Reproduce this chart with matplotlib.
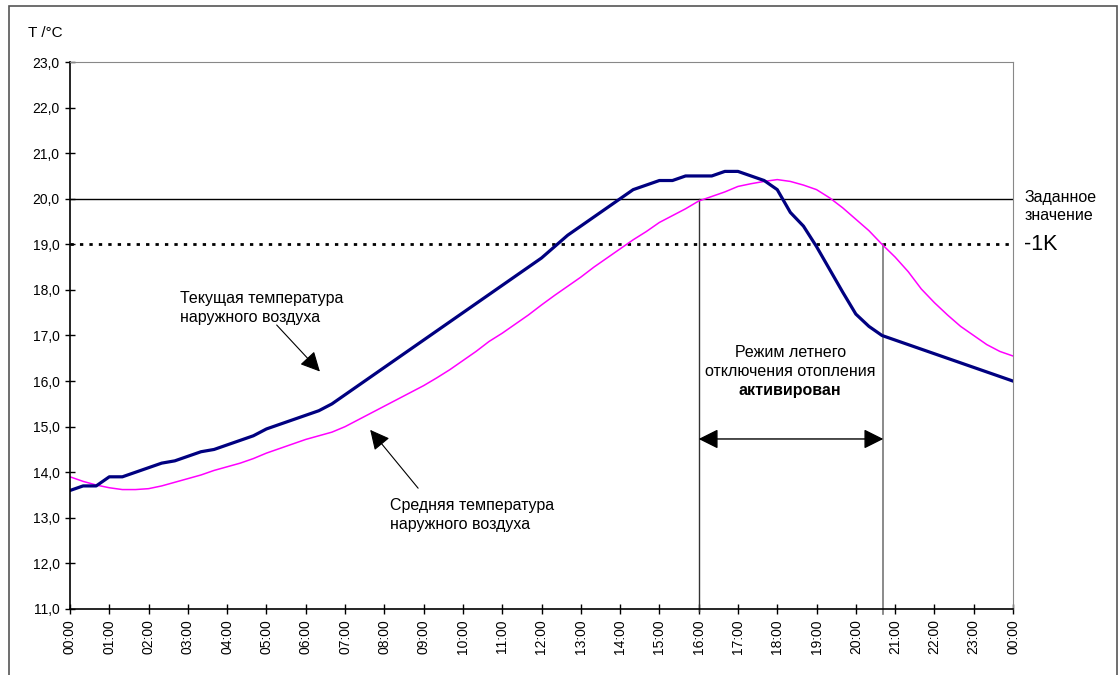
import matplotlib.pyplot as plt
import matplotlib.patches as patches

plt.rcParams['font.family'] = ['Liberation Sans', 'DejaVu Sans']

# time in hours, every 20 minutes
hours = [i / 3 for i in range(73)]

current_temp = [13.6, 13.7, 13.7, 13.9, 13.9, 14.0, 14.1, 14.2, 14.25, 14.35,
                14.45, 14.5, 14.6, 14.7, 14.8, 14.95, 15.05, 15.15, 15.25, 15.35,
                15.5, 15.7, 15.9, 16.1, 16.3, 16.5, 16.7, 16.9, 17.1, 17.3,
                17.5, 17.7, 17.9, 18.1, 18.3, 18.5, 18.7, 18.95, 19.2, 19.4,
                19.6, 19.8, 20.0, 20.2, 20.3, 20.4, 20.4, 20.5, 20.5, 20.5,
                20.6, 20.6, 20.5, 20.4, 20.2, 19.7, 19.4, 18.95, 18.45, 17.95,
                17.47, 17.2, 17.0, 16.9, 16.8, 16.7, 16.6, 16.5, 16.4, 16.3,
                16.2, 16.1, 16.0]

average_temp = [13.9, 13.8, 13.72, 13.66, 13.62, 13.62, 13.64, 13.7, 13.78, 13.86,
                13.94, 14.04, 14.12, 14.2, 14.3, 14.42, 14.52, 14.62, 14.72, 14.8,
                14.88, 15.0, 15.15, 15.3, 15.45, 15.6, 15.75, 15.9, 16.07, 16.25,
                16.45, 16.65, 16.87, 17.05, 17.25, 17.45, 17.67, 17.88, 18.08, 18.28,
                18.5, 18.7, 18.9, 19.1, 19.28, 19.48, 19.63, 19.78, 19.95, 20.05,
                20.15, 20.27, 20.33, 20.38, 20.42, 20.38, 20.3, 20.2, 20.02, 19.8,
                19.55, 19.3, 19.0, 18.72, 18.4, 18.02, 17.72, 17.45, 17.2, 17.0,
                16.8, 16.65, 16.55]

setpoint = 20.0
threshold = 19.0
t_on = 16.0
t_off = 20.7

hour_labels = ['%02d:00' % (h % 24) for h in range(25)]
y_ticks = [11 + i for i in range(13)]
y_labels = [('%.1f' % v).replace('.', ',') for v in y_ticks]

fig = plt.figure(figsize=(11.2, 6.75), dpi=100)
ax = fig.add_axes([70 / 1120, 1 - 609 / 675, 943 / 1120, 547 / 675])

# outer frame
fig.patches.append(patches.Rectangle((9 / 1120, -0.05), 1108 / 1120, 1 - 6 / 675 + 0.05,
                                     transform=fig.transFigure, fill=False,
                                     edgecolor='#555555', linewidth=1.2))

ax.axhline(setpoint, color='black', linewidth=1.0)
ax.axhline(threshold, color='black', linewidth=2.0, linestyle=(0, (1.2, 2.2)))
ax.plot([t_on, t_on], [10.95, setpoint], color='#333333', linewidth=1.0, clip_on=False)
ax.plot([t_off, t_off], [10.9, threshold], color='#777777', linewidth=1.2, clip_on=False)

ax.plot(hours, average_temp, color='#FF00FF', linewidth=1.1)
ax.plot(hours, current_temp, color='#000080', linewidth=2.3)

ax.set_xlim(0, 24)
ax.set_ylim(11, 23)
ax.set_xticks(range(25))
ax.set_xticklabels(hour_labels, rotation=90, fontsize=10)
ax.set_yticks(y_ticks)
ax.set_yticklabels(y_labels, fontsize=10)
ax.tick_params(direction='inout', length=7, width=1, pad=4)

ax.spines['top'].set_color('#888888')
ax.spines['right'].set_color('#888888')
ax.spines['left'].set_linewidth(1.2)
ax.spines['bottom'].set_linewidth(1.2)

fig.text(28 / 1120, 1 - 33 / 675, 'T /°C', fontsize=11, va='center', ha='left')

arrow_style = dict(arrowstyle='-|>,head_length=1.2,head_width=0.6',
                   color='black', linewidth=0.8, shrinkA=0, shrinkB=0)

ax.text(2.8, 17.6, 'Текущая температура\nнаружного воздуха', fontsize=11.5,
        ha='left', va='center', linespacing=1.3)
ax.annotate('', xy=(6.36, 16.21), xytext=(5.26, 17.23), arrowprops=arrow_style)

ax.text(8.15, 13.06, 'Средняя температура\nнаружного воздуха', fontsize=11.5,
        ha='left', va='center', linespacing=1.3)
ax.annotate('', xy=(7.64, 14.93), xytext=(8.86, 13.65), arrowprops=arrow_style)

ax.text(18.33, 16.42, 'Режим летнего\nотключения отопления', fontsize=11.5,
        ha='center', va='center', linespacing=1.3)
ax.text(18.33, 15.8, 'активирован', fontsize=11.5, fontweight='bold',
        ha='center', va='center')
ax.annotate('', xy=(t_on, 14.73), xytext=(t_off, 14.73),
            arrowprops=dict(arrowstyle='<|-|>,head_length=1.2,head_width=0.6',
                            color='black', linewidth=1.0, shrinkA=0, shrinkB=0))

ax.text(1.012, 0.735, 'Заданное\nзначение', transform=ax.transAxes, fontsize=11.5,
        ha='left', va='center', linespacing=1.25)
ax.text(1.012, 0.6667, '-1K', transform=ax.transAxes, fontsize=15.5,
        ha='left', va='center')

fig.savefig('out.png', dpi=100)
